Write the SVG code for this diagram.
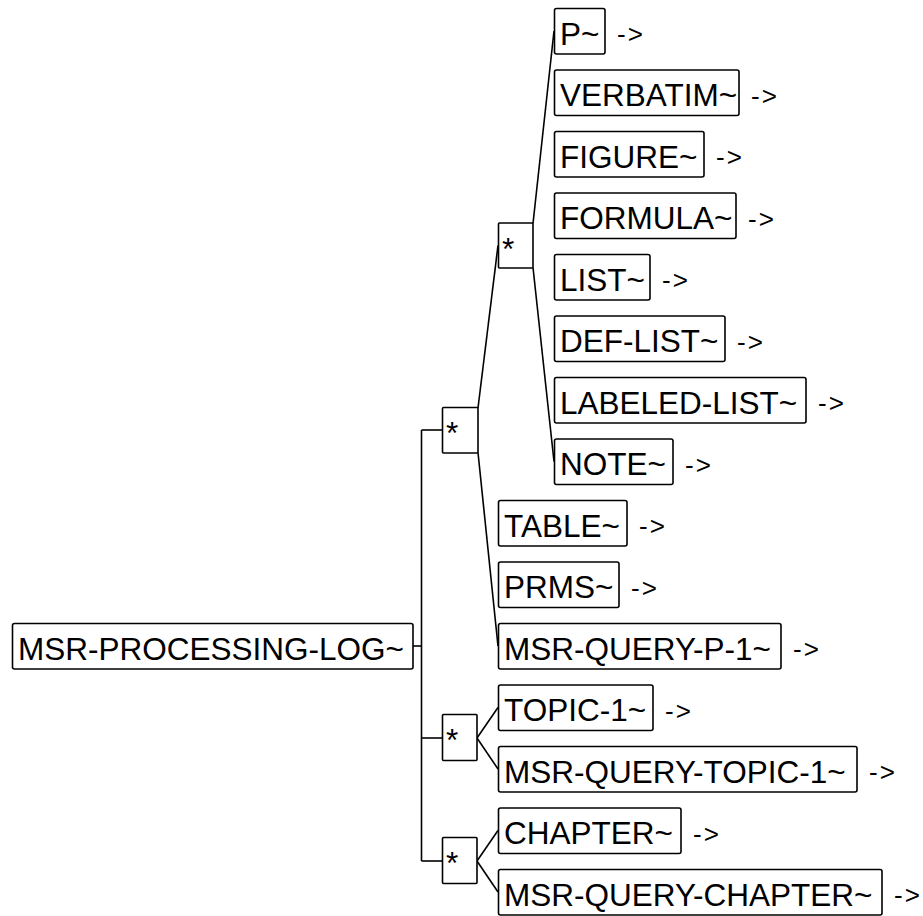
<svg xmlns="http://www.w3.org/2000/svg" width="923" height="916" viewBox="0 0 923 916">
<style>
.box{fill:#fff;stroke:#000;stroke-width:1.6}
.t{font-family:"Liberation Sans",Arial,sans-serif;font-size:31.5px;fill:#000}
.a{font-family:"Liberation Sans",Arial,sans-serif;font-size:26px;fill:#000;letter-spacing:2px}
.c{fill:none;stroke:#000;stroke-width:1.6}
</style>
<rect width="923" height="916" fill="#fff"/>
<g id="connectors" class="c">
<line x1="413" y1="646" x2="421.5" y2="646"/>
<line x1="421.5" y1="430" x2="421.5" y2="861"/>
<line x1="421.5" y1="430" x2="442" y2="430"/>
<line x1="421.5" y1="738" x2="442" y2="738"/>
<line x1="421.5" y1="861" x2="442" y2="861"/>
<line x1="478" y1="408" x2="498" y2="245.5"/>
<line x1="478" y1="452.5" x2="498" y2="646"/>
<line x1="533" y1="223.5" x2="554" y2="31"/>
<line x1="533" y1="267.5" x2="554" y2="461.5"/>
<line x1="477" y1="738" x2="498" y2="707.5"/>
<line x1="477" y1="738" x2="498" y2="769"/>
<line x1="477" y1="861" x2="498" y2="830.5"/>
<line x1="477" y1="861" x2="498" y2="892"/>
</g>
<g id="root"><rect class="box" x="12.5" y="623.5" width="400.5" height="45.5" rx="2"/><text class="t" x="18" y="660">MSR-PROCESSING-LOG~</text></g>
<g id="star1"><rect class="box" x="442.5" y="407.5" width="35.5" height="45.5" rx="1"/><text class="t" x="446" y="444">*</text></g>
<g id="star-inner"><rect class="box" x="498.5" y="223" width="34.5" height="45" rx="1"/><text class="t" x="502" y="259.5">*</text></g>
<g id="star2"><rect class="box" x="442.5" y="714.5" width="34.5" height="46" rx="1"/><text class="t" x="446" y="751">*</text></g>
<g id="star3"><rect class="box" x="442.5" y="837.5" width="34.5" height="46" rx="1"/><text class="t" x="446" y="874">*</text></g>
<g id="n-p"><rect class="box" x="554.5" y="8.5" width="50.5" height="45.5" rx="2"/><text class="t" x="560" y="44.5">P~</text><text class="a" x="617" y="43">-&gt;</text></g>
<g id="n-verbatim"><rect class="box" x="554.5" y="70" width="184.5" height="45.5" rx="2"/><text class="t" x="560" y="106">VERBATIM~</text><text class="a" x="751" y="104.5">-&gt;</text></g>
<g id="n-figure"><rect class="box" x="554.5" y="131.5" width="149.5" height="45.5" rx="2"/><text class="t" x="560" y="167.5">FIGURE~</text><text class="a" x="716" y="166">-&gt;</text></g>
<g id="n-formula"><rect class="box" x="554.5" y="193" width="181.5" height="45.5" rx="2"/><text class="t" x="560" y="229">FORMULA~</text><text class="a" x="748" y="227.5">-&gt;</text></g>
<g id="n-list"><rect class="box" x="554.5" y="254.5" width="95.5" height="45.5" rx="2"/><text class="t" x="560" y="290.5">LIST~</text><text class="a" x="662" y="289">-&gt;</text></g>
<g id="n-def-list"><rect class="box" x="554.5" y="316" width="170.5" height="45.5" rx="2"/><text class="t" x="560" y="352">DEF-LIST~</text><text class="a" x="737" y="350.5">-&gt;</text></g>
<g id="n-labeled-list"><rect class="box" x="554.5" y="377.5" width="251.5" height="45.5" rx="2"/><text class="t" x="560" y="413.5">LABELED-LIST~</text><text class="a" x="818" y="412">-&gt;</text></g>
<g id="n-note"><rect class="box" x="554.5" y="439" width="118.5" height="45.5" rx="2"/><text class="t" x="560" y="475">NOTE~</text><text class="a" x="685" y="473.5">-&gt;</text></g>
<g id="n-table"><rect class="box" x="498.5" y="500.5" width="128.5" height="45.5" rx="2"/><text class="t" x="504" y="536.5">TABLE~</text><text class="a" x="639" y="535">-&gt;</text></g>
<g id="n-prms"><rect class="box" x="498.5" y="562" width="120.5" height="45.5" rx="2"/><text class="t" x="504" y="598">PRMS~</text><text class="a" x="631" y="596.5">-&gt;</text></g>
<g id="n-msr-query-p-1"><rect class="box" x="498.5" y="623.5" width="282.5" height="45.5" rx="2"/><text class="t" x="504" y="659.5">MSR-QUERY-P-1~</text><text class="a" x="793" y="658">-&gt;</text></g>
<g id="n-topic-1"><rect class="box" x="498.5" y="685" width="154.5" height="45.5" rx="2"/><text class="t" x="504" y="721">TOPIC-1~</text><text class="a" x="665" y="719.5">-&gt;</text></g>
<g id="n-msr-query-topic-1"><rect class="box" x="498.5" y="746.5" width="358.5" height="45.5" rx="2"/><text class="t" x="504" y="782.5">MSR-QUERY-TOPIC-1~</text><text class="a" x="869" y="781">-&gt;</text></g>
<g id="n-chapter"><rect class="box" x="498.5" y="808" width="182.5" height="45.5" rx="2"/><text class="t" x="504" y="844">CHAPTER~</text><text class="a" x="693" y="842.5">-&gt;</text></g>
<g id="n-msr-query-chapter"><rect class="box" x="498.5" y="869.5" width="383.5" height="45.5" rx="2"/><text class="t" x="504" y="905.5">MSR-QUERY-CHAPTER~</text><text class="a" x="894" y="904">-&gt;</text></g>
</svg>
